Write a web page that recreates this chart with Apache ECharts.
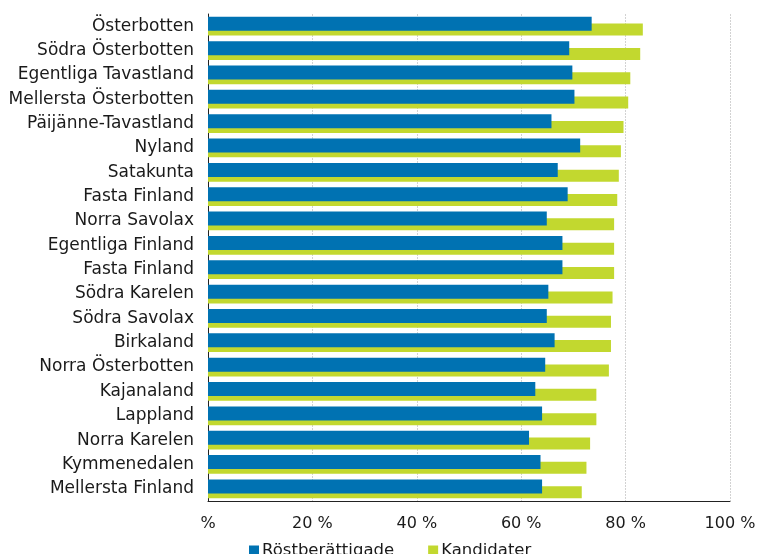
<!DOCTYPE html>
<html>
<head>
<meta charset="utf-8">
<script src="https://cdn.jsdelivr.net/npm/echarts@6/dist/echarts.min.js"></script>
<style>html,body{margin:0;padding:0;background:#fff}#c{width:760px;height:554px}</style>
</head>
<body>
<div id="c"></div>
<script>
const categories = ["Österbotten","Södra Österbotten","Egentliga Tavastland","Mellersta Österbotten","Päijänne-Tavastland","Nyland","Satakunta","Fasta Finland","Norra Savolax","Egentliga Finland","Fasta Finland ","Södra Karelen","Södra Savolax","Birkaland","Norra Österbotten","Kajanaland","Lappland","Norra Karelen","Kymmenedalen","Mellersta Finland"];
const rostberattigade = [73.5,69.2,69.8,70.2,65.8,71.3,67.0,68.9,64.9,67.9,67.9,65.2,64.9,66.4,64.6,62.7,64.0,61.5,63.7,64.0];
const kandidater = [83.3,82.8,80.9,80.5,79.6,79.1,78.7,78.4,77.8,77.8,77.8,77.5,77.2,77.2,76.8,74.4,74.4,73.2,72.5,71.6];
const xTicks = [0,20,40,60,80,100];
const seriesNames = ["Röstberättigade","Kandidater"];

const font = "DejaVu Sans";
const chart = echarts.init(document.getElementById('c'), null, {renderer:'canvas'});
chart.setOption({
  animation:false,
  textStyle:{fontFamily:font},
  grid:{left:208,right:30,top:14,bottom:53,containLabel:false},
  legend:{
    left:244, top:537, icon:'rect', itemWidth:10, itemHeight:10, itemGap:34,
    textStyle:{fontFamily:font,fontSize:16.5,color:'#1a1a1a',padding:[0,0,0,-2]},
    data:seriesNames
  },
  xAxis:{
    type:'value', min:xTicks[0], max:xTicks[xTicks.length-1], interval:20,
    axisLine:{show:true,lineStyle:{color:'#222',width:1}},
    axisTick:{show:false},
    axisLabel:{fontFamily:font,fontSize:16,color:'#1a1a1a',margin:15,
      formatter:function(v){return v===0?'%':v+' %';}},
    splitLine:{show:true,lineStyle:{color:'#d2d2d2',type:[2,1],width:1}}
  },
  yAxis:{
    type:'category', inverse:true, data:categories,
    axisLine:{show:true,lineStyle:{color:'#222',width:1}},
    axisTick:{show:false},
    axisLabel:{fontFamily:font,fontSize:17,color:'#1a1a1a',margin:14,
      formatter:function(v){return v.trim();}}
  },
  series:[
    {name:seriesNames[0],type:'bar',data:rostberattigade,barWidth:14,barGap:'-52%',z:3,
     itemStyle:{color:'#0072B2'}},
    {name:seriesNames[1],type:'bar',data:kandidater,barWidth:12,z:2,
     itemStyle:{color:'#C2D82F'}}
  ]
});
</script>
</body>
</html>
